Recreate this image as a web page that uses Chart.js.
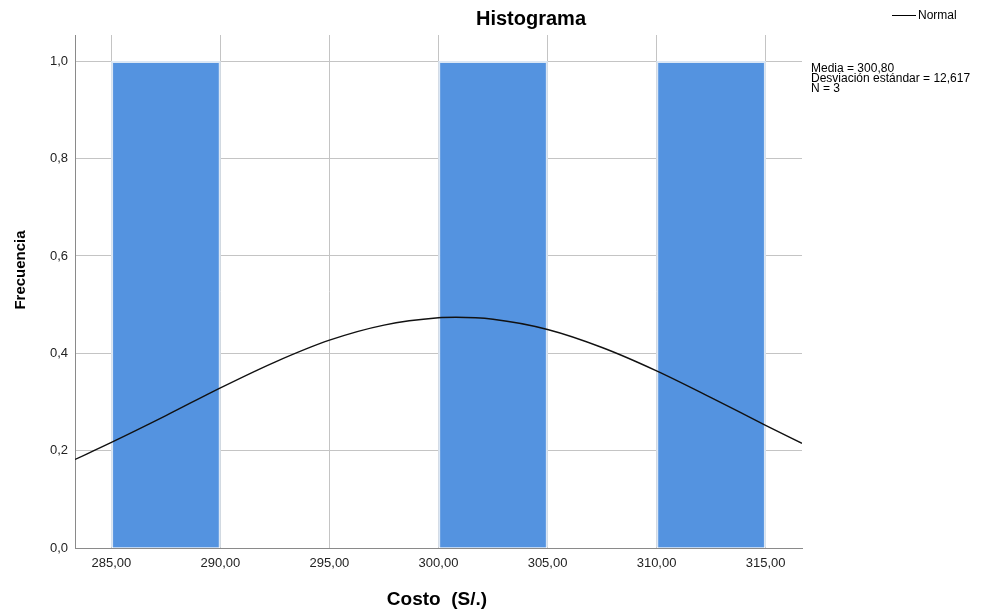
<!DOCTYPE html>
<html>
<head>
<meta charset="utf-8">
<script src="https://cdn.jsdelivr.net/npm/chart.js@4.4.1/dist/chart.umd.min.js"></script>
<style>
  html, body { margin: 0; padding: 0; background: #fff; }
  #wrap { width: 999px; height: 616px; }
</style>
</head>
<body>
<div id="wrap"><canvas id="histChart" width="999" height="616"></canvas></div>
<script>
// bins of 5 units (centre of each bin) and their frequencies
var binCenters = [287.5, 292.5, 297.5, 302.5, 307.5, 312.5];
var frequencies = [1, 0, 0, 1, 0, 1];

// normal curve
var normalX = [283.33, 285, 287.5, 290, 292.5, 295, 297.5, 300, 300.8, 302.5, 305, 307.5, 310, 312.5, 315, 316.67];
var normalY = [0.182, 0.217, 0.272, 0.329, 0.382, 0.427, 0.458, 0.473, 0.474, 0.470, 0.449, 0.412, 0.364, 0.309, 0.252, 0.215];

var xTicks = [285, 290, 295, 300, 305, 310, 315];
var yTicks = [0, 0.2, 0.4, 0.6, 0.8, 1.0];

var statLines = ['Media = 300,80', 'Desviación estándar = 12,617', 'N = 3'];

function comma(v, d) {
    return v.toFixed(d).replace('.', ',');
}

var barData = binCenters.map(function (c, i) { return { x: c, y: frequencies[i] }; });
var curveData = normalX.map(function (x, i) { return { x: x, y: normalY[i] }; });

var FONT = 'Arial, "Liberation Sans", sans-serif';

// texts that SPSS puts around the plot
var extraText = {
    id: 'extraText',
    afterDraw: function (chart) {
        var ctx = chart.ctx;
        ctx.save();
        ctx.fillStyle = '#000';
        ctx.textBaseline = 'middle';

        ctx.font = 'bold 20px ' + FONT;
        ctx.textAlign = 'center';
        ctx.fillText('Histograma', 531, 19);

        ctx.font = 'bold 19px ' + FONT;
        ctx.fillText('Costo  (S/.)', 437, 600);

        ctx.save();
        ctx.translate(21, 270);
        ctx.rotate(-Math.PI / 2);
        ctx.font = 'bold 15px ' + FONT;
        ctx.fillText('Frecuencia', 0, 0);
        ctx.restore();

        // legend
        ctx.strokeStyle = '#000';
        ctx.lineWidth = 1;
        ctx.beginPath();
        ctx.moveTo(892, 15.5);
        ctx.lineTo(916, 15.5);
        ctx.stroke();
        ctx.font = '12px ' + FONT;
        ctx.textAlign = 'left';
        ctx.fillText('Normal', 918, 16);

        for (var i = 0; i < statLines.length; i++) {
            ctx.fillText(statLines[i], 811, 69 + i * 10);
        }
        ctx.restore();
    }
};

var ctx = document.getElementById('histChart').getContext('2d');
var chart = new Chart(ctx, {
    type: 'bar',
    data: {
        datasets: [{
            type: 'line',
            label: 'Normal',
            data: curveData,
            borderColor: '#111',
            borderWidth: 1.4,
            pointRadius: 0,
            cubicInterpolationMode: 'monotone',
            fill: false,
            order: 0
        }, {
            type: 'bar',
            label: 'Frecuencia',
            data: barData,
            backgroundColor: '#5493e0',
            borderColor: '#dbe7f5',
            borderWidth: 2,
            borderSkipped: 'bottom',
            barPercentage: 1,
            categoryPercentage: 1,
            order: 1
        }]
    },
    options: {
        responsive: false,
        animation: false,
        devicePixelRatio: 1,
        layout: { padding: { left: 0, top: 35, right: 197, bottom: 0 } },
        plugins: {
            legend: { display: false },
            title: { display: false },
            tooltip: { enabled: false }
        },
        scales: {
            x: {
                type: 'linear',
                offset: false,
                min: 283.33,
                max: 316.67,
                afterBuildTicks: function (scale) {
                    scale.ticks = xTicks.map(function (v) { return { value: v }; });
                },
                afterFit: function (scale) { scale.height = 68; },
                grid: { color: '#c4c4c4', drawTicks: false, offset: false },
                border: { color: '#8a8a8a', width: 1 },
                ticks: {
                    padding: 8,
                    color: '#222',
                    font: { family: FONT, size: 13 },
                    callback: function (v) { return comma(v, 2); }
                }
            },
            y: {
                min: 0,
                max: 1.054,
                afterBuildTicks: function (scale) {
                    scale.ticks = yTicks.map(function (v) { return { value: v }; });
                },
                afterFit: function (scale) { scale.width = 75; },
                grid: { color: '#c4c4c4', drawTicks: false },
                border: { color: '#8a8a8a', width: 1 },
                ticks: {
                    padding: 7,
                    color: '#222',
                    font: { family: FONT, size: 13 },
                    callback: function (v) { return comma(v, 1); }
                }
            }
        }
    },
    plugins: [extraText]
});
</script>
</body>
</html>
